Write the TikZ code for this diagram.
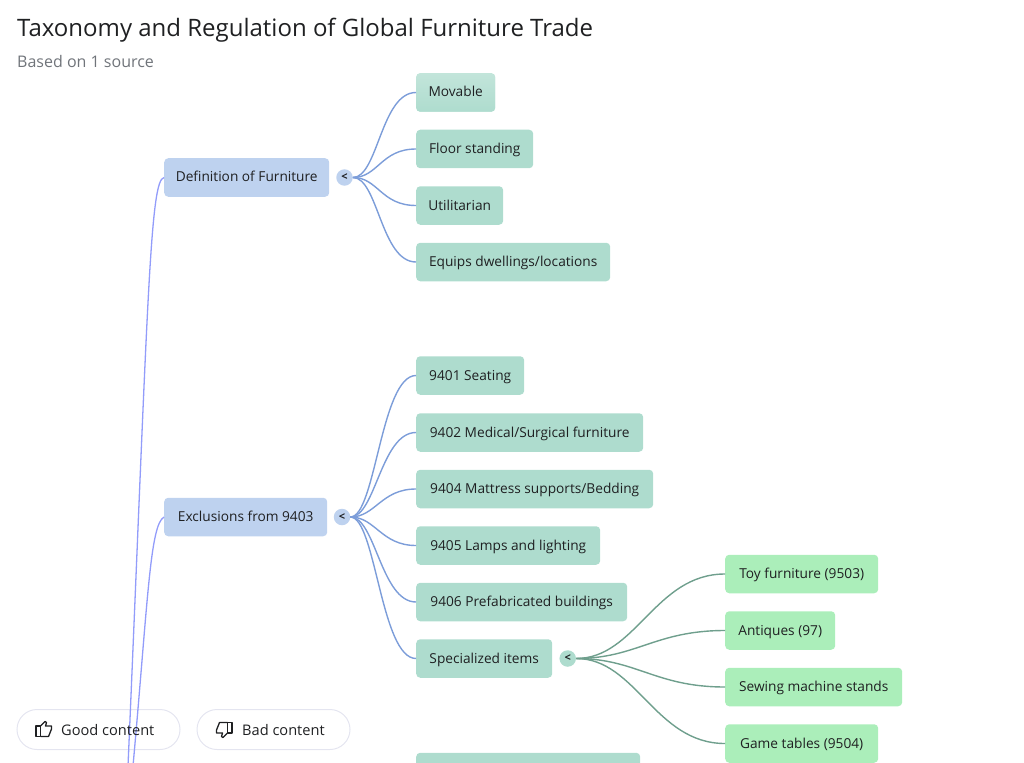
\documentclass[tikz,border=0pt]{standalone}
\usepackage{fontspec}
\setmainfont{Open Sans}
\usepackage{xcolor}
\definecolor{topicblue}{HTML}{BED2EF}
\definecolor{itemteal}{HTML}{AEDCCE}
\definecolor{itemgreen}{HTML}{ABEEBA}
\definecolor{trunkline}{HTML}{929CFA}
\definecolor{blueline}{HTML}{7C9DD9}
\definecolor{greenline}{HTML}{6F9F8D}
\definecolor{titleink}{HTML}{1F2022}
\definecolor{subink}{HTML}{70747A}
\definecolor{pillline}{HTML}{E4E5F0}
\tikzset{
  box/.style={anchor=west,rounded corners=4pt,inner xsep=0pt,inner ysep=0pt,minimum height=38.5pt,text height=12pt,text depth=3pt,font=\fontsize{13.7}{16}\selectfont,text=titleink},
  topicbox/.style={box,fill=topicblue},
  tealbox/.style={box,fill=itemteal},
  greenbox/.style={box,fill=itemgreen},
  toggle/.style={circle,inner sep=0pt,minimum size=16.5pt,font=\fontsize{11}{11}\selectfont\bfseries,text=titleink},
  trunk/.style={trunkline,line width=1.3pt},
  bluelink/.style={blueline,line width=1.4pt},
  greenlink/.style={greenline,line width=1.4pt},
  pill/.style={draw=pillline,line width=1pt,rounded corners=20pt,minimum height=40pt,inner sep=0pt},
  pilltext/.style={anchor=west,inner sep=0pt,font=\fontsize{14.6}{16}\selectfont,text=titleink},
  thumb/.style={draw=titleink,line width=1.3pt,line join=round}
}
\begin{document}
\begin{tikzpicture}[x=1pt,y=-1pt]
\useasboundingbox (0,0) rectangle (1024,762);
\clip (0,0) rectangle (1024,762);
\node[anchor=base west,inner sep=0pt,font=\fontsize{24}{28}\selectfont,text=titleink] (title) at (17,36.5) {Taxonomy and Regulation of Global Furniture Trade};
\node[anchor=base west,inner sep=0pt,font=\fontsize{16}{18}\selectfont,text=subink] (subtitle) at (17,68) {Based on 1 source};

\node[pill,minimum width=163pt] (goodpill) at (98.5,729.5) {};
\node[pill,minimum width=153pt] (badpill) at (273.5,729.5) {};

\node[topicbox,minimum width=165pt] (def) at (164,177.5) {Definition of Furniture};
\node[toggle,fill=topicblue] (deftog) at (344.5,177.5) {<};
\node[tealbox,minimum width=79pt,top color=itemteal!75!white,bottom color=itemteal] (movable) at (416,92.5) {Movable};
\node[tealbox,minimum width=117pt] (floor) at (416,149) {Floor standing};
\node[tealbox,minimum width=87pt] (util) at (416,205.5) {Utilitarian};
\node[tealbox,minimum width=194pt] (equips) at (416,262) {Equips dwellings/locations};

\node[topicbox,minimum width=163pt] (excl) at (164,517) {Exclusions from 9403};
\node[toggle,fill=topicblue] (excltog) at (342,517) {<};
\node[tealbox,minimum width=108pt] (seat) at (416,375.5) {9401 Seating};
\node[tealbox,minimum width=227pt] (medical) at (416,432.5) {9402 Medical/Surgical furniture};
\node[tealbox,minimum width=237pt] (mattress) at (416,489) {9404 Mattress supports/Bedding};
\node[tealbox,minimum width=184pt] (lamps) at (416,545.5) {9405 Lamps and lighting};
\node[tealbox,minimum width=211pt] (prefab) at (416,602) {9406 Prefabricated buildings};
\node[tealbox,minimum width=136pt] (special) at (416,658.5) {Specialized items};
\node[toggle,fill=itemteal] (specialtog) at (567.7,658.5) {<};
\node[tealbox,minimum width=224pt] (nextitem) at (416,772) {};

\node[greenbox,minimum width=153pt] (toy) at (725,574) {Toy furniture (9503)};
\node[greenbox,minimum width=110pt] (antiques) at (725,630.5) {Antiques (97)};
\node[greenbox,minimum width=177pt] (sewing) at (725,687) {Sewing machine stands};
\node[greenbox,minimum width=153pt] (game) at (725,743.5) {Game tables (9504)};

\coordinate (trunkA) at (128,766);
\coordinate (trunkB) at (133,766);
\draw[trunk] (def.west) .. controls (150,180) and (148,300) .. (trunkA);
\draw[trunk] (excl.west) .. controls (150,525) and (148,600) .. (trunkB);

\draw[bluelink] (deftog.east) .. controls +(25,0) and +(-35,0) .. (movable.west);
\draw[bluelink] (deftog.east) .. controls +(25,0) and +(-35,0) .. (floor.west);
\draw[bluelink] (deftog.east) .. controls +(25,0) and +(-35,0) .. (util.west);
\draw[bluelink] (deftog.east) .. controls +(25,0) and +(-35,0) .. (equips.west);

\draw[bluelink] (excltog.east) .. controls +(25,0) and +(-35,0) .. (seat.west);
\draw[bluelink] (excltog.east) .. controls +(25,0) and +(-35,0) .. (medical.west);
\draw[bluelink] (excltog.east) .. controls +(25,0) and +(-35,0) .. (mattress.west);
\draw[bluelink] (excltog.east) .. controls +(25,0) and +(-35,0) .. (lamps.west);
\draw[bluelink] (excltog.east) .. controls +(25,0) and +(-35,0) .. (prefab.west);
\draw[bluelink] (excltog.east) .. controls +(25,0) and +(-35,0) .. (special.west);

\draw[greenlink] (specialtog.east) .. controls +(60,0) and +(-70,0) .. (toy.west);
\draw[greenlink] (specialtog.east) .. controls +(60,0) and +(-70,0) .. (antiques.west);
\draw[greenlink] (specialtog.east) .. controls +(60,0) and +(-70,0) .. (sewing.west);
\draw[greenlink] (specialtog.east) .. controls +(60,0) and +(-70,0) .. (game.west);

\node[pilltext] (goodtext) at (61,730) {Good content};
\node[pilltext] (badtext) at (242,730) {Bad content};

\draw[thumb] (36,726) rectangle (40.5,736.5);
\draw[thumb] (40.5,726) -- (45,721.5) -- (46.5,722.5) -- (45.5,726) -- (51.5,726) -- (51.5,729) -- (48.5,736.5) -- (40.5,736.5);
\draw[thumb] (232,733) rectangle (227.5,722.5);
\draw[thumb] (227.5,733) -- (223,737.5) -- (221.5,736.5) -- (222.5,733) -- (216.5,733) -- (216.5,730) -- (219.5,722.5) -- (227.5,722.5);
\end{tikzpicture}
\end{document}
